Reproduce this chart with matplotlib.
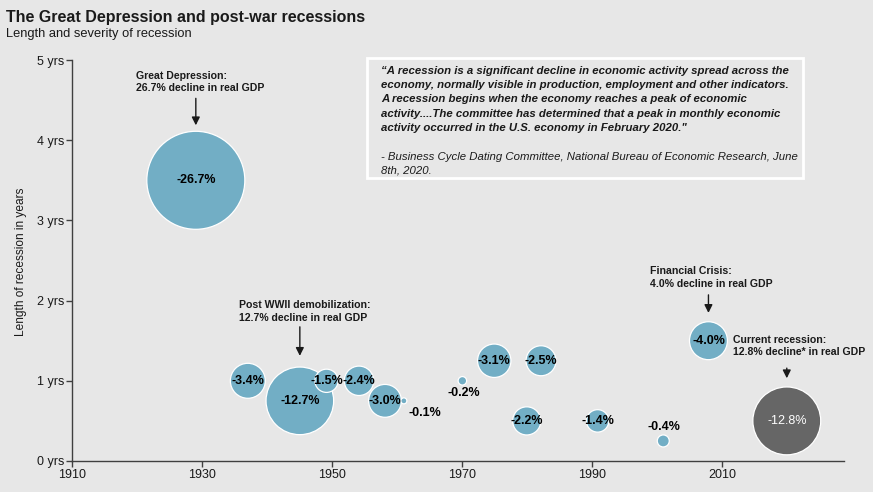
import matplotlib
matplotlib.use("Agg")
import matplotlib.pyplot as plt
from matplotlib.patches import Rectangle

plt.rcParams['font.family'] = ['Liberation Sans', 'DejaVu Sans']

# ---- data ----
years = [1929, 1937, 1945, 1949.1, 1954.1, 1958.1, 1961.0, 1970.0, 1974.9,
         1982.1, 1979.9, 1990.8, 2000.9, 2007.85, 2019.9]
lengths = [3.5, 1.0, 0.75, 1.0, 1.0, 0.75, 0.75, 1.0, 1.25,
           1.25, 0.5, 0.5, 0.25, 1.5, 0.5]
declines = [26.7, 3.4, 12.7, 1.5, 2.4, 3.0, 0.1, 0.2, 3.1,
            2.5, 2.2, 1.4, 0.4, 4.0, 12.8]
value_labels = ["-26.7%", "-3.4%", "-12.7%", "-1.5%", "-2.4%", "-3.0%", "-0.1%",
                "-0.2%", "-3.1%", "-2.5%", "-2.2%", "-1.4%", "-0.4%", "-4.0%", "-12.8%"]
is_current = [False] * 14 + [True]

y_ticks = [0, 1, 2, 3, 4, 5]
y_tick_labels = ["0 yrs", "1 yrs", "2 yrs", "3 yrs", "4 yrs", "5 yrs"]
x_ticks = [1910, 1930, 1950, 1970, 1990, 2010]

title = "The Great Depression and post-war recessions"
subtitle = "Length and severity of recession"
y_label = "Length of recession in years"
quote = ("\u201cA recession is a significant decline in economic activity spread across the\n"
         "economy, normally visible in production, employment and other indicators.\n"
         "A recession begins when the economy reaches a peak of economic\n"
         "activity....The committee has determined that a peak in monthly economic\n"
         "activity occurred in the U.S. economy in February 2020.\"")
source = ("- Business Cycle Dating Committee, National Bureau of Economic Research, June\n"
          "8th, 2020.")

callouts = [
    ("Great Depression:\n26.7% decline in real GDP", 0),
    ("Post WWII demobilization:\n12.7% decline in real GDP", 2),
    ("Financial Crisis:\n4.0% decline in real GDP", 13),
    ("Current recession:\n12.8% decline* in real GDP", 14),
]

# ---- style ----
BG = "#e7e7e7"
BLUE = "#72aec5"
GRAY = "#666666"
AX = "#404040"
TXT = "#1a1a1a"

W, H = 880, 497
fig = plt.figure(figsize=(W / 100, H / 100), dpi=100, facecolor=BG)

def fx(px):
    return px / W

def fy(py):
    return 1 - py / H

ax = fig.add_axes([fx(72.3), fy(461), fx(844) - fx(72.3), fy(60) - fy(461)])
ax.set_facecolor(BG)
ax.set_xlim(1910, 2028.7)
ax.set_ylim(0, 5)

for s in ["top", "right"]:
    ax.spines[s].set_visible(False)
for s in ["left", "bottom"]:
    ax.spines[s].set_color(AX)
    ax.spines[s].set_linewidth(1.0)

ax.set_yticks(y_ticks)
ax.set_yticklabels(y_tick_labels)
ax.set_xticks(x_ticks)
ax.tick_params(axis="both", direction="out", length=4, width=1, color=AX,
               labelsize=9.0, labelcolor=TXT, pad=2)
ax.set_ylabel(y_label, fontsize=8.6, color=TXT)
ax.yaxis.set_label_coords(-0.059, 0.496)

# bubbles: marker area proportional to GDP decline
k = 186.5
sizes = [k * d for d in declines]
colors = [GRAY if c else BLUE for c in is_current]
ax.scatter(years, lengths, s=sizes, c=colors, edgecolors="white",
           linewidths=0.9, zorder=3)

# value labels
small_offsets = {"-0.1%": (15, -9), "-0.2%": (0.7, -9), "-0.4%": (0.5, 10)}
for x, y, lab, cur in zip(years, lengths, value_labels, is_current):
    off = small_offsets.get(lab, (0, 0))
    ax.annotate(lab, (x, y), xytext=off, textcoords="offset points",
                ha="center", va="center", fontsize=9,
                fontweight="normal" if cur else "bold",
                color="white" if cur else "black", zorder=5)

# callouts with arrows (offsets in points from the bubble centre)
callout_geom = {
    0: dict(text=(-43, 62.5), tail=59, tip=39.6),
    2: dict(text=(-44, 56.3), tail=53.3, tip=32.4),
    13: dict(text=(-42, 37.5), tail=33, tip=20),
    14: dict(text=(-39, 46), tail=38, tip=30.7),
}
for text, i in callouts:
    g = callout_geom[i]
    ax.annotate(text, (years[i], lengths[i]), xytext=g["text"],
                textcoords="offset points", ha="left", va="bottom",
                fontsize=7.6, fontweight="bold", color=TXT,
                linespacing=1.3)
    ax.annotate("", xy=(years[i], lengths[i]), xycoords="data",
                xytext=(0, g["tail"]), textcoords="offset points",
                arrowprops=dict(arrowstyle="-|>", color=TXT, lw=1.0,
                                mutation_scale=12, shrinkA=0,
                                shrinkB=g["tip"]),
                annotation_clip=False)

# title & subtitle
fig.text(fx(6), fy(22), title, fontsize=11.5, fontweight="bold",
         color=TXT, ha="left", va="baseline")
fig.text(fx(6), fy(37), subtitle, fontsize=9.3, color=TXT,
         ha="left", va="baseline")

# quote box
fig.patches.append(Rectangle((fx(367), fy(178)), fx(803) - fx(367), fy(58) - fy(178),
                             transform=fig.transFigure, facecolor=BG,
                             edgecolor="white", linewidth=2, zorder=1))
fig.text(fx(381), fy(65.5), quote, fontsize=8.2, fontweight="bold",
         fontstyle="italic", color=TXT, ha="left", va="top",
         linespacing=1.56)
fig.text(fx(381), fy(151.5), source, fontsize=8.2, fontstyle="italic",
         color=TXT, ha="left", va="top", linespacing=1.5)

# white margins on the right and bottom edges
fig.patches.append(Rectangle((fx(873), 0), 1 - fx(873), 1, transform=fig.transFigure,
                             facecolor="white", edgecolor="none"))
fig.patches.append(Rectangle((0, 0), 1, fy(492), transform=fig.transFigure,
                             facecolor="white", edgecolor="none"))

fig.savefig("out.png", dpi=100, facecolor=BG)
